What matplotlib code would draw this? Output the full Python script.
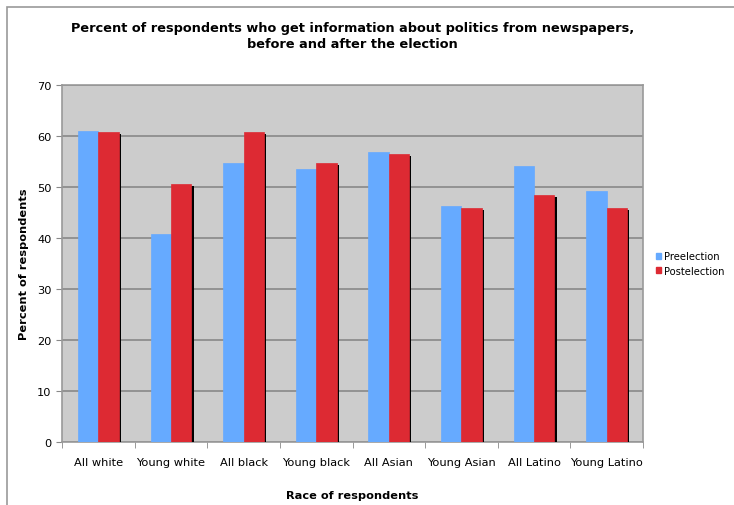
import numpy as np
import matplotlib.pyplot as plt
import matplotlib.patheffects as pe
from matplotlib.patches import Rectangle, Patch

groups = ['All white', 'Young white', 'All black', 'Young black',
          'All Asian', 'Young Asian', 'All Latino', 'Young Latino']
pre = [61.0, 40.8, 54.7, 53.5, 56.9, 46.3, 54.1, 49.2]
post = [60.8, 50.6, 60.8, 54.7, 56.5, 45.9, 48.4, 45.9]

blue = '#66aaff'
red = '#dd2a33'

fig = plt.figure(figsize=(7.34, 5.06), dpi=100)
ax = fig.add_axes([0.0845, 0.1245, 0.7915, 0.7055])
ax.set_facecolor('#cccccc')

x = np.arange(len(groups))
w = 0.28
shadow = [pe.SimplePatchShadow(offset=(1.6, -1.6), shadow_rgbFace='black', alpha=1), pe.Normal()]
ax.bar(x - w / 2, pre, w, color=blue, edgecolor=blue, linewidth=0.5, zorder=3)
ax.bar(x + w / 2, post, w, color=red, edgecolor=red, linewidth=0.5,
       zorder=3, path_effects=shadow)

ax.set_xlim(-0.5, len(groups) - 0.5)
ax.set_ylim(0, 70)
ax.set_yticks(range(0, 71, 10))
ax.yaxis.grid(True, color='#888888', linewidth=1.2, zorder=1)
ax.set_axisbelow(True)

ax.set_xticks(x)
ax.set_xticklabels(groups, fontsize=8.2)
ax.set_xticks(np.arange(-0.5, len(groups), 1), minor=True)
ax.tick_params(axis='x', which='major', length=0, pad=11)
ax.tick_params(axis='x', which='minor', length=4, color='#888888')
ax.tick_params(axis='y', length=4, color='#888888', labelsize=8.2)
for s in ax.spines.values():
    s.set_color('#999999')
    s.set_linewidth(1.2)

ax.set_ylabel('Percent of respondents', fontsize=8.2, fontweight='bold', labelpad=6)
ax.set_xlabel('Race of respondents', fontsize=8.2, fontweight='bold', labelpad=16)

fig.text(0.48, 0.927, 'Percent of respondents who get information about politics from newspapers,\nbefore and after the election',
         ha='center', va='center', fontsize=9.3, fontweight='bold', linespacing=1.3)

handles = [Patch(color=blue, label='Preelection'), Patch(color=red, label='Postelection')]
ax.legend(handles=handles, loc='center left', bbox_to_anchor=(1.0, 0.5), frameon=False,
          fontsize=7.2, handlelength=0.55, handleheight=0.55, handletextpad=0.25,
          labelspacing=0.45, borderaxespad=0.9)

# page frame around the chart
fig.patches.append(Rectangle((7 / 734, -0.1), 1.1, 0.1 + 498 / 506, transform=fig.transFigure,
                             fill=False, edgecolor='#999999', linewidth=1.2))

fig.savefig('out.png', dpi=100)
